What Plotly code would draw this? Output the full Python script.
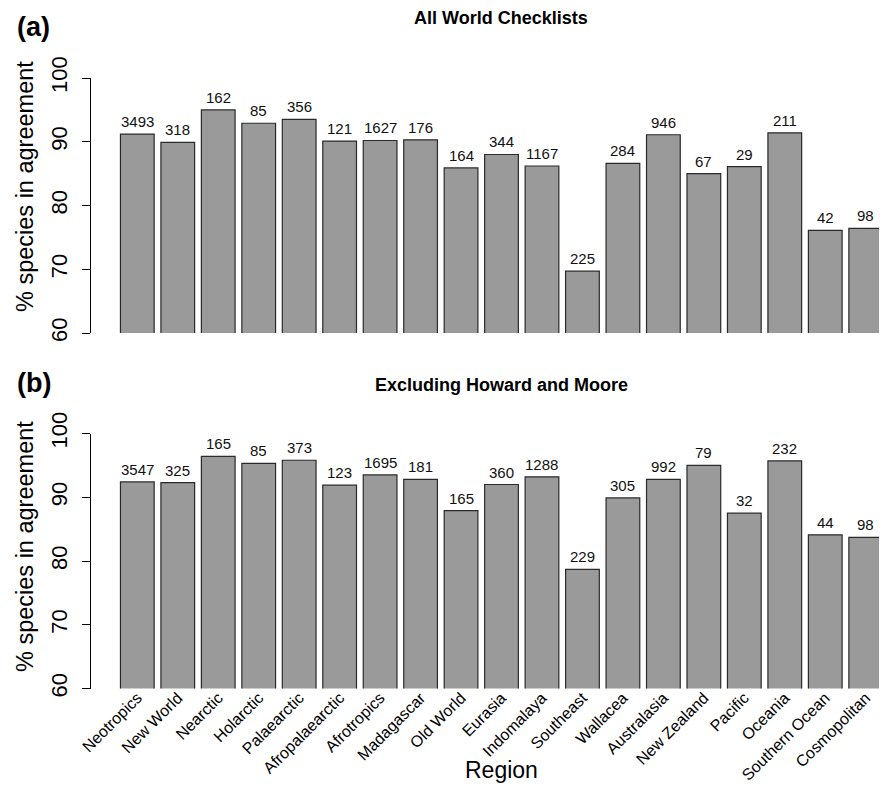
import plotly.graph_objects as go

regions = ["Neotropics", "New World", "Nearctic", "Holarctic", "Palaearctic",
           "Afropalaearctic", "Afrotropics", "Madagascar", "Old World", "Eurasia",
           "Indomalaya", "Southeast", "Wallacea", "Australasia", "New Zealand",
           "Pacific", "Oceania", "Southern Ocean", "Cosmopolitan"]

pct_all = [91.2, 89.9, 95.0, 92.9, 93.5, 90.1, 90.2, 90.3, 85.9, 88.0,
           86.2, 69.7, 86.6, 91.1, 85.0, 86.1, 91.4, 76.1, 76.4]
n_all = [3493, 318, 162, 85, 356, 121, 1627, 176, 164, 344,
         1167, 225, 284, 946, 67, 29, 211, 42, 98]

pct_excl = [92.4, 92.3, 96.4, 95.3, 95.8, 91.9, 93.5, 92.8, 87.9, 92.0,
            93.2, 78.7, 89.9, 92.8, 95.0, 87.5, 95.7, 84.1, 83.7]
n_excl = [3547, 325, 165, 85, 373, 123, 1695, 181, 165, 360,
          1288, 229, 305, 992, 79, 32, 232, 44, 98]

y_ticks = [60, 70, 80, 90, 100]

W, H = 887, 786
OFF = 8  # page body margin offset
FONT = "Liberation Sans, Arial, Helvetica, sans-serif"


def px(x):
    return (x - OFF) / W


def py(y):
    return 1 - (y - OFF) / H


fig = go.Figure()
bar_style = dict(marker=dict(color="#9a9a9a", line=dict(color="#2a2a2a", width=1.2)),
                 showlegend=False, hoverinfo="x+y")
fig.add_trace(go.Bar(x=regions, y=pct_all, xaxis="x", yaxis="y", **bar_style))
fig.add_trace(go.Bar(x=regions, y=pct_excl, xaxis="x2", yaxis="y2", **bar_style))

annotations = []
for xs, ys, ns, xr, yr in [(regions, pct_all, n_all, "x", "y"),
                            (regions, pct_excl, n_excl, "x2", "y2")]:
    for r, v, n in zip(xs, ys, ns):
        annotations.append(dict(x=r, y=v, xref=xr, yref=yr, text=str(n),
                                showarrow=False, yanchor="bottom", yshift=2,
                                font=dict(size=15, color="#111111", family=FONT)))


def lab(x, y, text, size, angle=0):
    return dict(x=px(x), y=py(y), xref="paper", yref="paper", text=text,
                xanchor="center", yanchor="middle", textangle=angle,
                showarrow=False, font=dict(size=size, family=FONT, color="black"))


annotations += [
    lab(501, 18, "<b>All World Checklists</b>", 18),
    lab(501, 385, "<b>Excluding Howard and Moore</b>", 18),
    lab(33, 27, "<b>(a)</b>", 27),
    lab(34, 383, "<b>(b)</b>", 27),
    lab(25, 187, "% species in agreement", 23.5, -90),
    lab(25, 547, "% species in agreement", 23.5, -90),
    lab(502, 770, "Region", 23),
]

xrange = [-1.169, 18.526]
xcommon = dict(domain=[px(90), min(1.0, px(90 + 797))], range=xrange, showline=False,
               showgrid=False, zeroline=False, ticks="", type="category", automargin=False)
ycommon = dict(range=[60, 100], tickvals=y_ticks, showline=True, linecolor="black",
               linewidth=1, ticks="outside", ticklen=8, tickcolor="black",
               showgrid=False, zeroline=False, tickangle=-90, automargin=False,
               ticklabelstandoff=6,
               tickfont=dict(size=22, family=FONT, color="black"))

fig.update_layout(
    width=W, height=H,
    margin=dict(l=0, r=0, t=0, b=0),
    paper_bgcolor="white", plot_bgcolor="white",
    bargap=0.1667,
    font=dict(family=FONT, color="black"),
    xaxis=dict(**xcommon, anchor="y", showticklabels=False),
    yaxis=dict(**ycommon, domain=[py(333), py(78)], anchor="free", position=px(90)),
    xaxis2=dict(**xcommon, anchor="y2", showticklabels=True, tickangle=-45,
                ticklabelstandoff=-4,
                tickfont=dict(size=16, family=FONT, color="black")),
    yaxis2=dict(**ycommon, domain=[py(688.5), py(433.5)], anchor="free", position=px(90)),
    annotations=annotations,
)

fig.write_html("out.html")
